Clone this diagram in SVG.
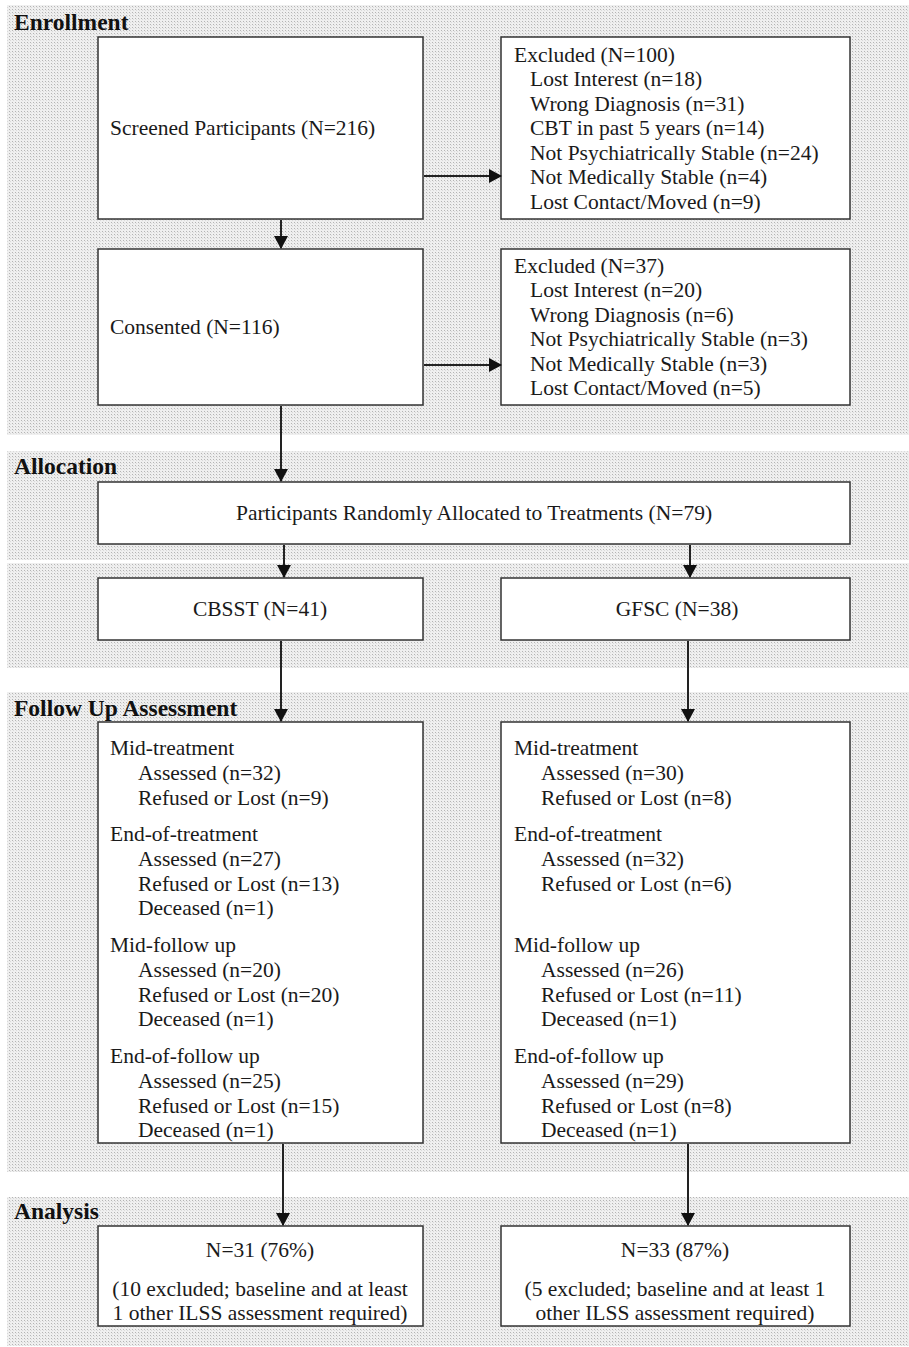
<svg xmlns="http://www.w3.org/2000/svg" width="909" height="1347" viewBox="0 0 909 1347">
<style>
text{font-family:"Liberation Serif","Times New Roman",serif;font-size:21.5px;fill:#1a1a1a}
.sec{font-weight:bold;font-size:23.5px;fill:#111}
.box{fill:#fff;stroke:#333;stroke-width:1.5}
.band{fill:url(#dots)}
.c line{stroke:#222;stroke-width:2;marker-end:url(#ah)}
.m{text-anchor:middle}
</style>
<defs>
<pattern id="dots" width="3" height="3" patternUnits="userSpaceOnUse">
<rect width="3" height="3" fill="#efefef"/>
<rect width="1" height="1" fill="#b4b4b4"/>
<rect x="1" y="1" width="1" height="1" fill="#dadada"/>
</pattern>
<marker id="ah" markerWidth="13" markerHeight="14" refX="12" refY="7" orient="auto" markerUnits="userSpaceOnUse" viewBox="0 0 13 14">
<path d="M0,0 L13,7 L0,14 Z" fill="#111"/>
</marker>
</defs>
<rect width="909" height="1347" fill="#fff"/>
<g id="bands">
<rect class="band" x="7" y="5" width="902" height="430"/>
<rect class="band" x="7" y="451" width="902" height="109"/>
<rect class="band" x="7" y="563" width="902" height="105"/>
<rect class="band" x="7" y="692" width="902" height="480"/>
<rect class="band" x="7" y="1197" width="902" height="149"/>
</g>
<g id="section-labels">
<text class="sec" x="14" y="30">Enrollment</text>
<text class="sec" x="14" y="474">Allocation</text>
<text class="sec" x="14" y="716">Follow Up Assessment</text>
<text class="sec" x="14" y="1219">Analysis</text>
</g>
<g id="screened"><rect class="box" x="98" y="37" width="325" height="182"/><text x="110" y="135">Screened Participants (N=216)</text></g>
<g id="excluded1"><rect class="box" x="501" y="37" width="349" height="182"/>
<text x="514" y="62">Excluded (N=100)</text>
<text x="530" y="86">Lost Interest (n=18)</text>
<text x="530" y="111">Wrong Diagnosis (n=31)</text>
<text x="530" y="135">CBT in past 5 years (n=14)</text>
<text x="530" y="160">Not Psychiatrically Stable (n=24)</text>
<text x="530" y="184">Not Medically Stable (n=4)</text>
<text x="530" y="209">Lost Contact/Moved (n=9)</text>
</g>
<g id="consented"><rect class="box" x="98" y="249" width="325" height="156"/><text x="110" y="334">Consented (N=116)</text></g>
<g id="excluded2"><rect class="box" x="501" y="249" width="349" height="156"/>
<text x="514" y="273">Excluded (N=37)</text>
<text x="530" y="297">Lost Interest (n=20)</text>
<text x="530" y="322">Wrong Diagnosis (n=6)</text>
<text x="530" y="346">Not Psychiatrically Stable (n=3)</text>
<text x="530" y="371">Not Medically Stable (n=3)</text>
<text x="530" y="395">Lost Contact/Moved (n=5)</text>
</g>
<g id="allocated"><rect class="box" x="98" y="482" width="752" height="62"/><text class="m" x="474" y="520">Participants Randomly Allocated to Treatments (N=79)</text></g>
<g id="cbsst"><rect class="box" x="98" y="578" width="325" height="62"/><text class="m" x="260" y="616">CBSST (N=41)</text></g>
<g id="gfsc"><rect class="box" x="501" y="578" width="349" height="62"/><text class="m" x="677" y="616">GFSC (N=38)</text></g>
<g id="followup-cbsst"><rect class="box" x="98" y="722" width="325" height="421"/>
<text x="110" y="755">Mid-treatment</text>
<text x="138" y="780">Assessed (n=32)</text>
<text x="138" y="805">Refused or Lost (n=9)</text>
<text x="110" y="841">End-of-treatment</text>
<text x="138" y="866">Assessed (n=27)</text>
<text x="138" y="891">Refused or Lost (n=13)</text>
<text x="138" y="915">Deceased (n=1)</text>
<text x="110" y="952">Mid-follow up</text>
<text x="138" y="977">Assessed (n=20)</text>
<text x="138" y="1002">Refused or Lost (n=20)</text>
<text x="138" y="1026">Deceased (n=1)</text>
<text x="110" y="1063">End-of-follow up</text>
<text x="138" y="1088">Assessed (n=25)</text>
<text x="138" y="1113">Refused or Lost (n=15)</text>
<text x="138" y="1137">Deceased (n=1)</text>
</g>
<g id="followup-gfsc"><rect class="box" x="501" y="722" width="349" height="421"/>
<text x="514" y="755">Mid-treatment</text>
<text x="541" y="780">Assessed (n=30)</text>
<text x="541" y="805">Refused or Lost (n=8)</text>
<text x="514" y="841">End-of-treatment</text>
<text x="541" y="866">Assessed (n=32)</text>
<text x="541" y="891">Refused or Lost (n=6)</text>
<text x="514" y="952">Mid-follow up</text>
<text x="541" y="977">Assessed (n=26)</text>
<text x="541" y="1002">Refused or Lost (n=11)</text>
<text x="541" y="1026">Deceased (n=1)</text>
<text x="514" y="1063">End-of-follow up</text>
<text x="541" y="1088">Assessed (n=29)</text>
<text x="541" y="1113">Refused or Lost (n=8)</text>
<text x="541" y="1137">Deceased (n=1)</text>
</g>
<g id="analysis-cbsst"><rect class="box" x="98" y="1226" width="325" height="100"/>
<text class="m" x="260" y="1257">N=31 (76%)</text>
<text class="m" x="260" y="1296">(10 excluded; baseline and at least</text>
<text class="m" x="260" y="1320">1 other ILSS assessment required)</text>
</g>
<g id="analysis-gfsc"><rect class="box" x="501" y="1226" width="349" height="100"/>
<text class="m" x="675" y="1257">N=33 (87%)</text>
<text class="m" x="675" y="1296">(5 excluded; baseline and at least 1</text>
<text class="m" x="675" y="1320">other ILSS assessment required)</text>
</g>
<g id="connectors" class="c">
<line x1="281" y1="220" x2="281" y2="248"/>
<line x1="424" y1="176" x2="501" y2="176"/>
<line x1="424" y1="365" x2="501" y2="365"/>
<line x1="281" y1="406" x2="281" y2="481"/>
<line x1="284" y1="545" x2="284" y2="577"/>
<line x1="690" y1="545" x2="690" y2="577"/>
<line x1="281" y1="641" x2="281" y2="721"/>
<line x1="688" y1="641" x2="688" y2="721"/>
<line x1="283" y1="1144" x2="283" y2="1225"/>
<line x1="688" y1="1144" x2="688" y2="1225"/>
</g>
</svg>
